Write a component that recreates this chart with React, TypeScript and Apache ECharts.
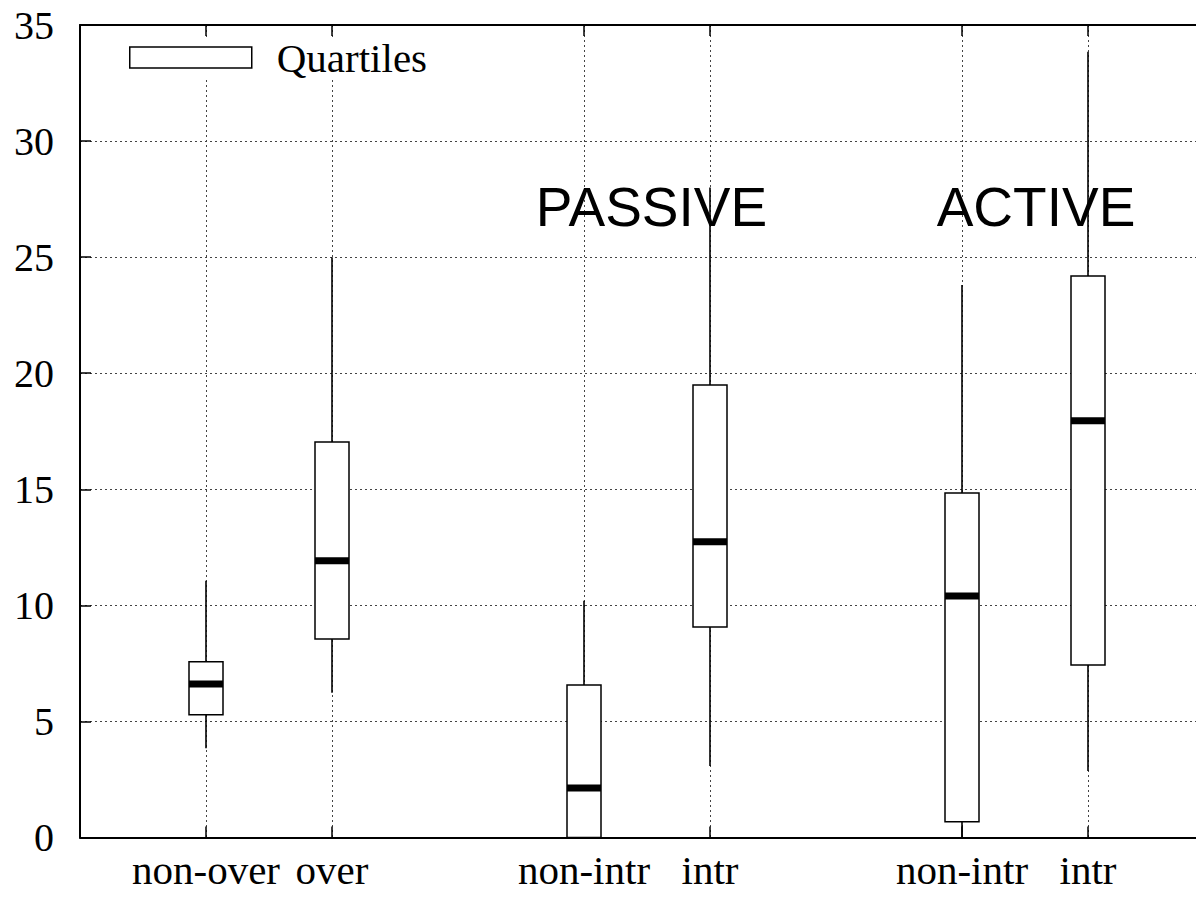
import React, { useEffect, useRef } from "react";
import * as echarts from "echarts";

// ---- data ----
const positions = [1, 2, 4, 5, 7, 8];
const categoryLabels = ["non-over", "over", "non-intr", "intr", "non-intr", "intr"];
const whiskerLow = [3.84, 6.24, 0, 3.08, 0, 2.86];
const quartile1 = [5.29, 8.55, 0, 9.07, 0.68, 7.43];
const medians = [6.61, 11.92, 2.13, 12.74, 10.4, 17.95];
const quartile3 = [7.57, 17.04, 6.57, 19.49, 14.84, 24.19];
const whiskerHigh = [11.06, 25.0, 10.2, 28.0, 23.8, 33.85];
const groupTitles = ["PASSIVE", "ACTIVE"];
const seriesName = "Quartiles";

const SERIF = '"Liberation Serif", "Times New Roman", serif';
const SANS = '"Liberation Sans", Arial, sans-serif';

export default function App() {
  const ref = useRef<HTMLDivElement>(null);

  useEffect(() => {
    if (!ref.current) return;
    const chart = echarts.init(ref.current, undefined, { renderer: "svg" });

    const data = positions.map((p, i) => [
      p,
      whiskerLow[i],
      quartile1[i],
      medians[i],
      quartile3[i],
      whiskerHigh[i],
    ]);

    const dotted = { color: "#444", width: 1, type: [2, 3] as any };

    const option: any = {
      animation: false,
      backgroundColor: "#fff",
      textStyle: { fontFamily: SERIF },
      grid: { left: 80, top: 25, bottom: 61.5, right: 0, containLabel: false },
      legend: {
        data: [
          {
            name: seriesName,
            icon: "rect",
            itemStyle: { color: "#fff", borderColor: "#000", borderWidth: 1.5 },
          },
        ],
        left: 119,
        top: 37,
        itemWidth: 122,
        itemHeight: 21,
        padding: [0, 12, 0, 10],
        backgroundColor: "#fff",
        selectedMode: false,
        textStyle: {
          fontSize: 41,
          fontFamily: SERIF,
          color: "#000",
          padding: [0, 0, 0, 20],
        },
      },
      xAxis: [
        {
          type: "value",
          min: 0,
          max: 9,
          position: "bottom",
          axisLine: { show: true, onZero: false, lineStyle: { color: "#000", width: 2 } },
          axisTick: {
            show: true,
            inside: true,
            length: 11,
            customValues: positions,
            lineStyle: { color: "#000", width: 1.5 },
          },
          axisLabel: {
            show: true,
            customValues: positions,
            formatter: (v: number) => {
              const i = positions.indexOf(v);
              return i >= 0 ? categoryLabels[i] : "";
            },
            fontSize: 41,
            fontFamily: SERIF,
            color: "#000",
            margin: 12,
          },
          splitLine: { show: true, lineStyle: dotted },
        },
        {
          type: "value",
          min: 0,
          max: 9,
          position: "top",
          axisLine: { show: true, onZero: false, lineStyle: { color: "#000", width: 2 } },
          axisTick: {
            show: true,
            inside: true,
            length: 11,
            customValues: positions,
            lineStyle: { color: "#000", width: 1.5 },
          },
          axisLabel: { show: false },
          splitLine: { show: false },
        },
      ],
      yAxis: {
        type: "value",
        min: 0,
        max: 35,
        interval: 5,
        axisLine: { show: true, onZero: false, lineStyle: { color: "#000", width: 2 } },
        axisTick: { show: true, inside: true, length: 11, lineStyle: { color: "#000", width: 1.5 } },
        axisLabel: { fontSize: 40, fontFamily: SERIF, color: "#000", margin: 26 },
        splitLine: { show: true, lineStyle: dotted },
      },
      graphic: [
        {
          type: "text",
          x: 651.5,
          y: 207,
          z: 10,
          style: {
            text: groupTitles[0],
            font: `55px ${SANS}`,
            fill: "#000",
            textAlign: "center",
            textVerticalAlign: "middle",
          },
        },
        {
          type: "text",
          x: 1036,
          y: 207,
          z: 10,
          style: {
            text: groupTitles[1],
            font: `55px ${SANS}`,
            fill: "#000",
            textAlign: "center",
            textVerticalAlign: "middle",
          },
        },
      ],
      series: [
        {
          name: seriesName,
          type: "custom",
          xAxisIndex: 0,
          yAxisIndex: 0,
          data,
          encode: { x: 0, y: [1, 2, 3, 4, 5] },
          renderItem: (params: any, api: any) => {
            const x = api.value(0);
            const c = (v: number) => api.coord([x, v]);
            const pMin = c(api.value(1));
            const pQ1 = c(api.value(2));
            const pMed = c(api.value(3));
            const pQ3 = c(api.value(4));
            const pMax = c(api.value(5));
            const half = 17;
            const cx = pMed[0];
            const lineStyle = { stroke: "#000", lineWidth: 1.6 };
            return {
              type: "group",
              children: [
                {
                  type: "line",
                  shape: { x1: cx, y1: pMax[1], x2: cx, y2: pQ3[1] },
                  style: lineStyle,
                },
                {
                  type: "line",
                  shape: { x1: cx, y1: pQ1[1], x2: cx, y2: pMin[1] },
                  style: lineStyle,
                },
                {
                  type: "rect",
                  shape: { x: cx - half, y: pQ3[1], width: half * 2, height: pQ1[1] - pQ3[1] },
                  style: { fill: "#fff", stroke: "#000", lineWidth: 1.5 },
                },
                {
                  type: "rect",
                  shape: { x: cx - half, y: pMed[1] - 3.5, width: half * 2, height: 7 },
                  style: { fill: "#000" },
                },
              ],
            };
          },
        },
      ],
    };

    chart.setOption(option);
    return () => chart.dispose();
  }, []);

  return (
    <div
      style={{
        position: "absolute",
        left: 0,
        top: 0,
        width: 1196,
        height: 899,
        overflow: "hidden",
        background: "#fff",
      }}
    >
      <div ref={ref} style={{ width: 1214, height: 899 }} />
    </div>
  );
}
